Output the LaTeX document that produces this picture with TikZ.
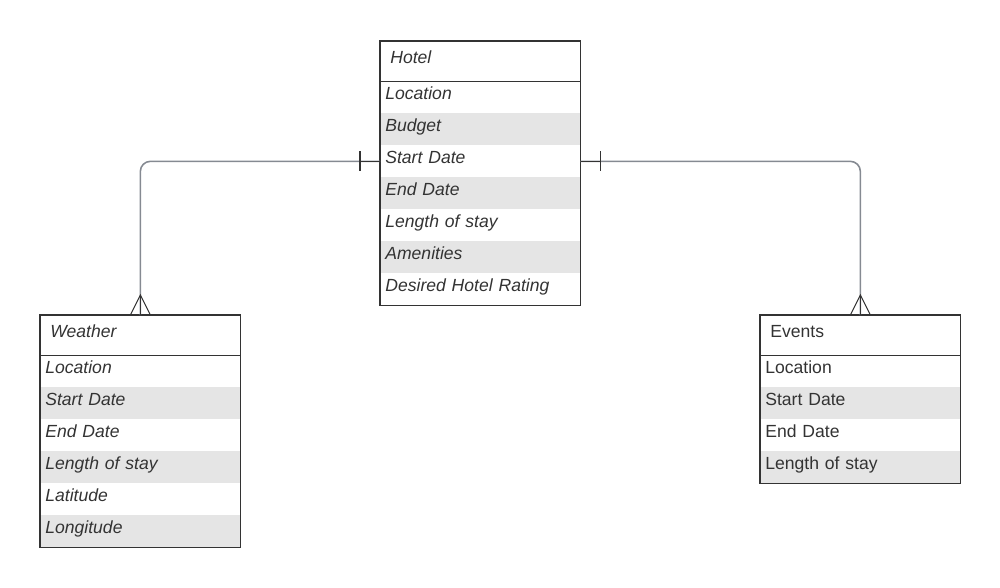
\documentclass[tikz,border=0pt]{standalone}
\usepackage{fontspec}
\setmainfont{Liberation Sans}
\definecolor{rowgray}{HTML}{E5E5E5}
\definecolor{edge}{HTML}{333333}
\definecolor{txt}{HTML}{333333}
\definecolor{conn}{HTML}{858A92}
\begin{document}
\begin{tikzpicture}[
  font=\fontsize{10}{12}\selectfont,
  tbl/.style={draw=edge, line width=0.6pt},
  hdr/.style={anchor=north west, minimum height=0.8cm, text width=3.6cm, inner xsep=0.2cm, inner ysep=0pt, align=left, text=txt, text height=6.4pt, text depth=3.5pt},
  plainrow/.style={anchor=north west, minimum height=0.64cm, text width=3.8cm, inner xsep=0.1cm, inner ysep=0pt, align=left, text=txt, text height=6pt, text depth=3.7pt},
  grayrow/.style={plainrow, fill=rowgray},
  itx/.style={font=\fontsize{10}{12}\selectfont\itshape},
  conline/.style={draw=conn, line width=0.9pt, rounded corners=0.2cm},
  tickmark/.style={draw=edge, line width=0.6pt}
]
\useasboundingbox (0,0) rectangle (20,-11.74);
% Hotel
\node[hdr,itx] (hotel) at (7.6,-0.82) {Hotel};
\node[plainrow,itx] (h1) at (7.6,-1.62) {Location};
\node[grayrow,itx]  (h2) at (7.6,-2.26) {Budget};
\node[plainrow,itx] (h3) at (7.6,-2.90) {Start Date};
\node[grayrow,itx]  (h4) at (7.6,-3.54) {End Date};
\node[plainrow,itx] (h5) at (7.6,-4.18) {Length of stay};
\node[grayrow,itx]  (h6) at (7.6,-4.82) {Amenities};
\node[plainrow,itx] (h7) at (7.6,-5.46) {Desired Hotel Rating};
\draw[tbl] (hotel.north west) rectangle (h7.south east);
\draw[tbl] (hotel.south west) -- (hotel.south east);
% Weather
\node[hdr,itx] (weather) at (0.8,-6.30) {Weather};
\node[plainrow,itx] (w1) at (0.8,-7.10) {Location};
\node[grayrow,itx]  (w2) at (0.8,-7.74) {Start Date};
\node[plainrow,itx] (w3) at (0.8,-8.38) {End Date};
\node[grayrow,itx]  (w4) at (0.8,-9.02) {Length of stay};
\node[plainrow,itx] (w5) at (0.8,-9.66) {Latitude};
\node[grayrow,itx]  (w6) at (0.8,-10.30) {Longitude};
\draw[tbl] (weather.north west) rectangle (w6.south east);
\draw[tbl] (weather.south west) -- (weather.south east);
% Events
\node[hdr] (events) at (15.2,-6.30) {Events};
\node[plainrow] (e1) at (15.2,-7.10) {Location};
\node[grayrow]  (e2) at (15.2,-7.74) {Start Date};
\node[plainrow] (e3) at (15.2,-8.38) {End Date};
\node[grayrow]  (e4) at (15.2,-9.02) {Length of stay};
\draw[tbl] (events.north west) rectangle (e4.south east);
\draw[tbl] (events.south west) -- (events.south east);
% connectors
\draw[conline] (h3.west) -| (weather.north);
\draw[conline] (h3.east) -| (events.north);
% one marks
\draw[tickmark] ([xshift=-0.4cm,yshift=0.2cm]h3.west) -- ([xshift=-0.4cm,yshift=-0.2cm]h3.west);
\draw[tickmark] ([xshift=0.4cm,yshift=0.2cm]h3.east) -- ([xshift=0.4cm,yshift=-0.2cm]h3.east);
\draw[tickmark] ([xshift=-0.4cm]h3.west) -- (h3.west);
\draw[tickmark] ([xshift=0.4cm]h3.east) -- (h3.east);
% many marks
\draw[tickmark] ([xshift=-0.2cm]weather.north) -- ([yshift=0.4cm]weather.north) -- ([xshift=0.2cm]weather.north);
\draw[tickmark] (weather.north) -- ([yshift=0.4cm]weather.north);
\draw[tickmark] ([xshift=-0.2cm]events.north) -- ([yshift=0.4cm]events.north) -- ([xshift=0.2cm]events.north);
\draw[tickmark] (events.north) -- ([yshift=0.4cm]events.north);
\end{tikzpicture}
\end{document}
